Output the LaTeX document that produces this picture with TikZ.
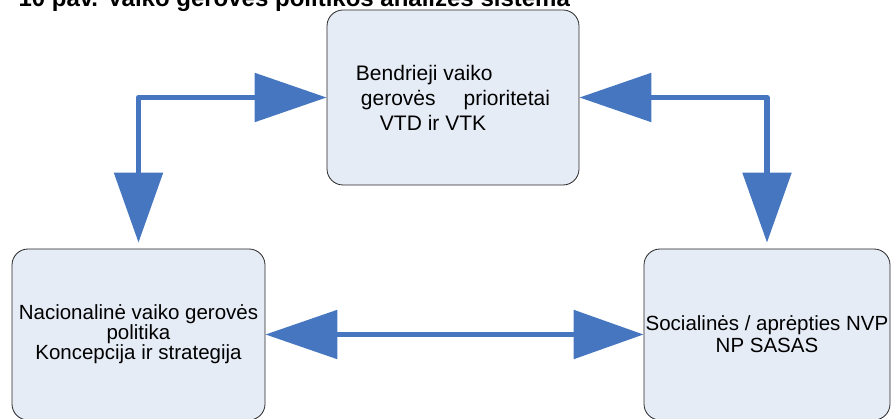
\documentclass[tikz,border=0pt]{standalone}
\usepackage{fontspec}
\setmainfont{Liberation Sans}
\usetikzlibrary{arrows.meta}
\definecolor{boxfill}{RGB}{230,236,246}
\definecolor{arrblue}{RGB}{70,118,192}

\begin{document}
\begin{tikzpicture}[x=1pt,y=-1pt]
\tikzstyle {bx}=[rectangle, rounded corners=16pt, draw=black!85, line width=0.8pt, fill=boxfill, inner sep=0pt]
\tikzstyle {arr}=[draw=arrblue, line width=5.5pt, line join=round, {Triangle[length=72pt,width=48pt]}-{Triangle[length=70pt,width=48pt]}]
\useasboundingbox (0,0) rectangle (893,419);
\node (title) [anchor=base west, font=\bfseries\fontsize{24}{28}\selectfont] at (15,7) {10 pav. Vaiko gerovės politikos analizės sistema};
\node (pri) [bx, minimum width=252pt, minimum height=175pt, align=left, font=\fontsize{21}{25}\selectfont] at (453,97.5) {Bendrieji vaiko\\ \hspace{5pt}gerovės\hspace{28pt}prioritetai\\ \hspace{24pt}VTD ir VTK};
\node (nac) [bx, minimum width=253pt, minimum height=171pt, align=center, font=\fontsize{20.5}{20}\selectfont] at (138.5,334.5) {Nacionalinė vaiko gerovės\\ politika\\ Koncepcija ir strategija};
\node (soc) [bx, minimum width=246pt, minimum height=171pt, align=center, font=\fontsize{20.5}{22}\selectfont] at (767,334.5) {Socialinės / aprėpties NVP\\ NP SASAS};
% connectors
\draw [arr, shorten >=6pt] (pri.west) -| (nac.north);
\draw [arr, shorten >=6pt] (pri.east) -| (soc.north);
\draw [arr] (nac.east) -- (soc.west);
\end{tikzpicture}
\end{document}
